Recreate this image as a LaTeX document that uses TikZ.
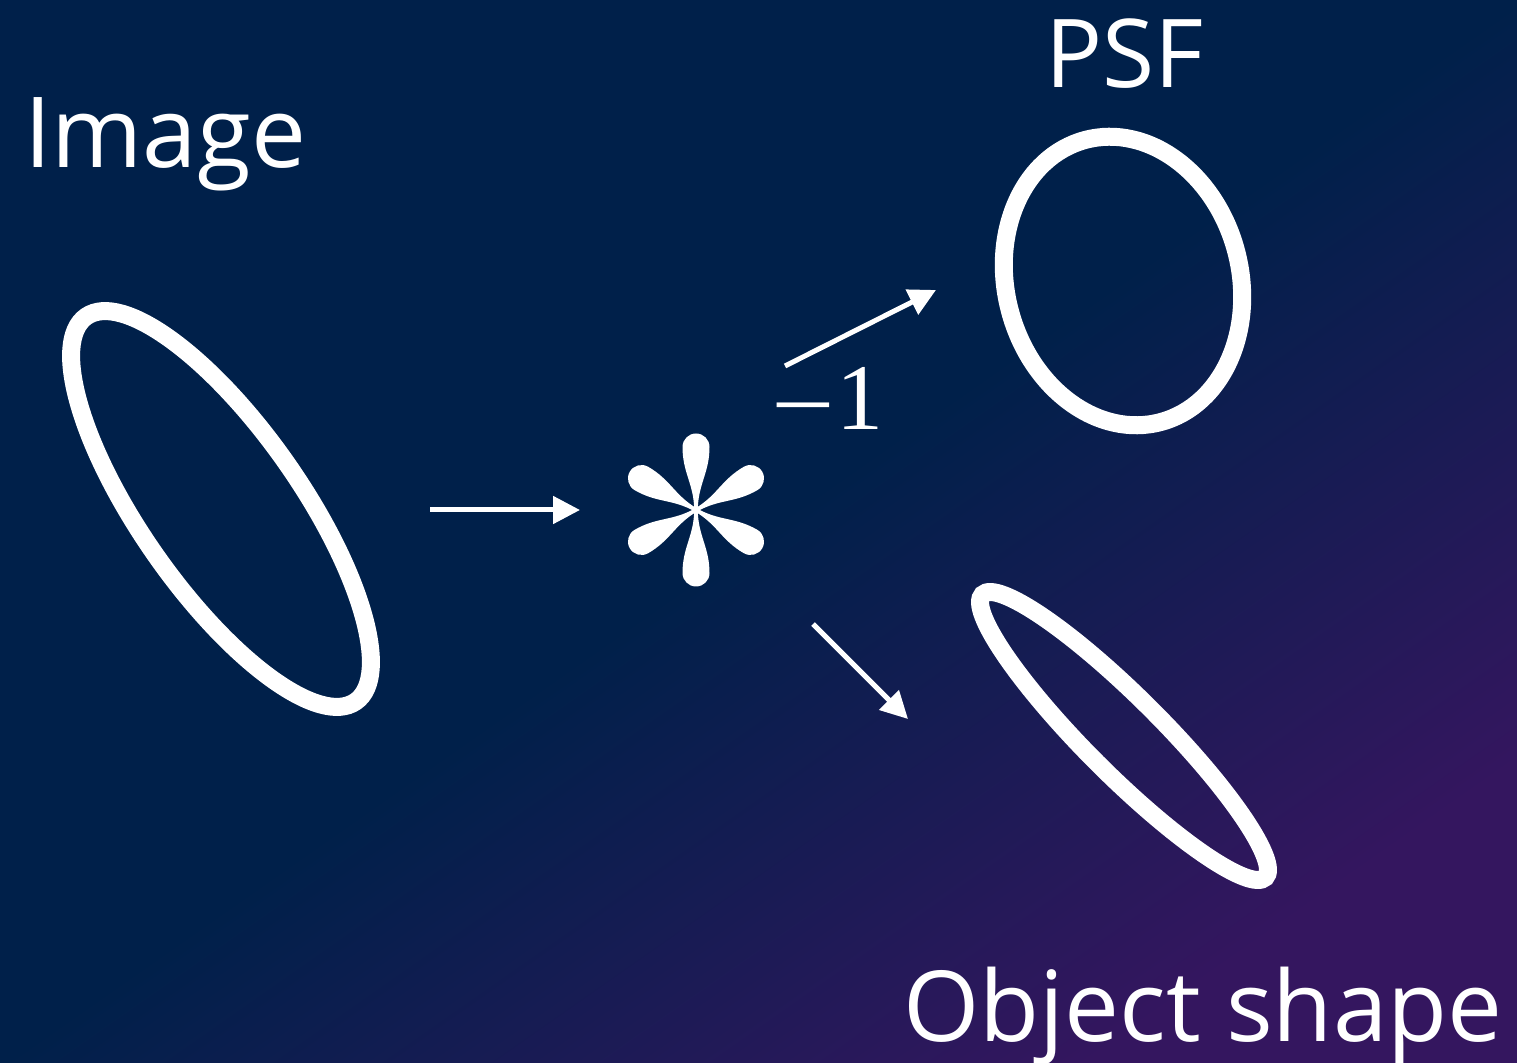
\documentclass[tikz,border=0pt]{standalone}
\usepackage[no-math]{fontspec}
\setmainfont{Open Sans}
\newfontfamily\opserif{Liberation Serif}
\usepackage{graphicx}
\usetikzlibrary{arrows.meta}
\definecolor{bgnavy}{HTML}{00204A}
\definecolor{bgpurple}{HTML}{34165F}
\pgfdeclarehorizontalshading{bgshade}{100bp}{color(0bp)=(bgnavy); color(50bp)=(bgnavy); color(75bp)=(bgpurple); color(100bp)=(bgpurple)}
\tikzset{
  ring/.style={draw=white, line width=9pt},
  arr/.style={draw=white, line width=2.5pt, -{Triangle[length=13.5pt,width=13.5pt]}},
  lbl/.style={text=white, inner sep=0pt, font=\fontsize{49}{59}\selectfont},
  opsym/.style={text=white, inner sep=0pt},
  lobe/.style={fill=white, draw=none},
}
\begin{document}
\begin{tikzpicture}[x=0.5pt,y=-0.5pt]
\useasboundingbox (0,0) rectangle (1517,1063);
\shade[shading=bgshade, shading angle=-55] (0,0) rectangle (1517,1063);
% labels
\node[lbl, anchor=base west] (image) at (24,168) {Image};
\node[lbl, anchor=base west, font=\fontsize{47.5}{57}\selectfont] (psf) at (1045,88) {PSF};
\node[lbl, anchor=base west] (obj) at (903,1042) {Object shape};
% ellipses
\draw[ring, rotate around={-55:(221,509)}] (221,509) ellipse [x radius=235, y radius=80];
\draw[ring, rotate around={15:(1123,281)}] (1123,281) ellipse [x radius=117, y radius=146];
\draw[ring, rotate around={-45:(1124,736)}] (1124,736) ellipse [x radius=200, y radius=38];
% operator (six teardrop lobes)
\coordinate (star) at (696,510);
\begin{scope}[shift={(star)}]
  \foreach \a in {30,90,150,210,270,330}{
    \fill[lobe, rotate=\a] (0,1.8) .. controls (26,2) and (37,13.5) .. (63,13.5)
      arc [start angle=90, end angle=-90, radius=13.5]
      .. controls (37,-13.5) and (26,-2) .. (0,-1.8) -- cycle;
  }
\end{scope}
\node[opsym, anchor=base west, font=\opserif\fontsize{47}{47}\selectfont] (inv) at (771,430) {\raisebox{-3.5pt}{\scalebox{1.2}[1]{−}}\kern0.5pt 1};
% arrows
\coordinate (h1) at (430,510); \coordinate (h2) at (580,510);
\coordinate (u1) at (785,366); \coordinate (u2) at (936,290);
\coordinate (d1) at (813,624); \coordinate (d2) at (908,719);
\draw[arr] (h1) -- (h2);
\draw[arr] (u1) -- (u2);
\draw[arr] (d1) -- (d2);
\end{tikzpicture}
\end{document}
